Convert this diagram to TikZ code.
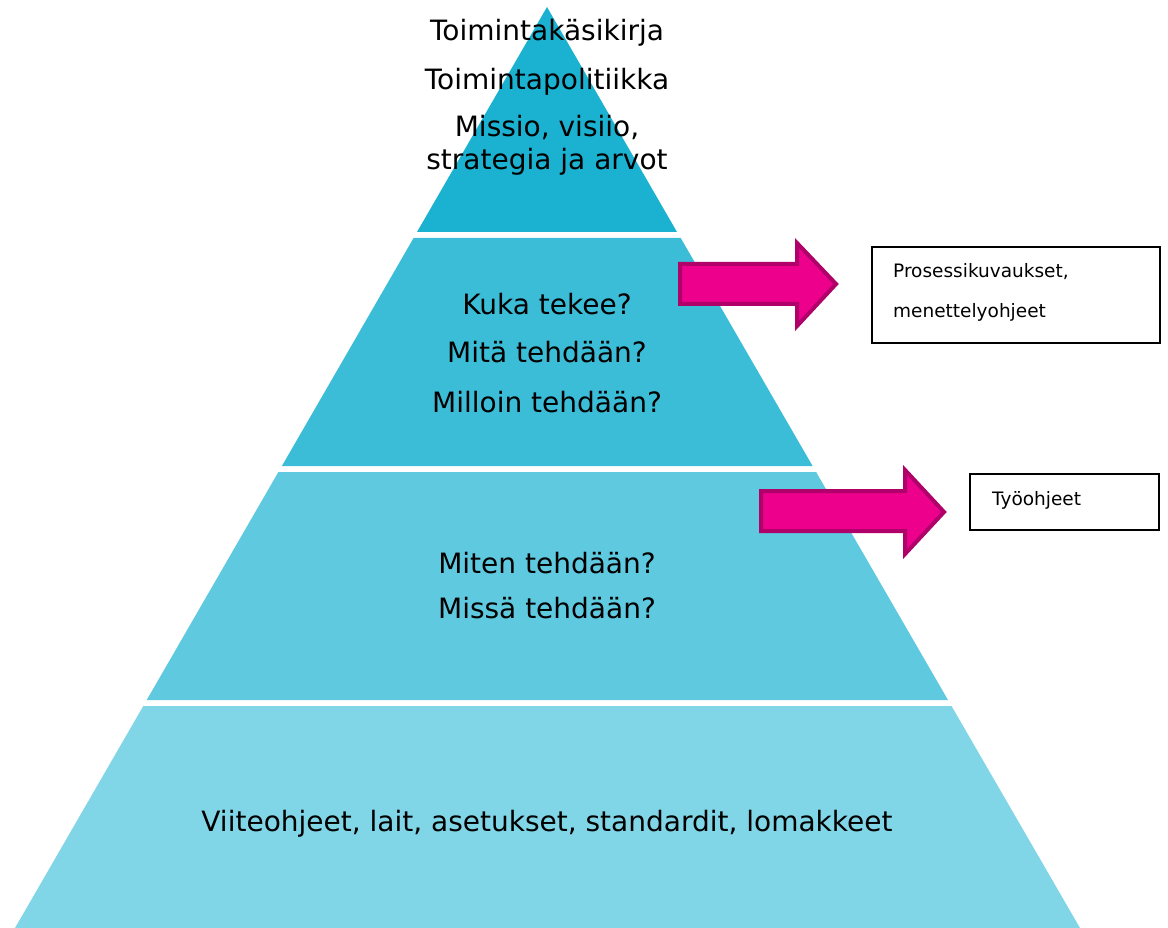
\documentclass[tikz,border=0pt]{standalone}
\usepackage{fontspec}
\setmainfont{DejaVu Sans}
\definecolor{layerA}{HTML}{1BB1D1}
\definecolor{layerB}{HTML}{3BBDD8}
\definecolor{layerC}{HTML}{5FC9E0}
\definecolor{layerD}{HTML}{80D5E6}
\definecolor{arrowfill}{HTML}{EC008C}
\definecolor{arrowedge}{HTML}{B0006A}
\begin{document}
\begin{tikzpicture}[x=1pt,y=-1pt,
  bigtext/.style={font=\fontsize{28}{33}\selectfont, inner sep=0pt, anchor=base},
  smalltext/.style={font=\fontsize{18.5}{22}\selectfont, inner sep=0pt, anchor=base west},
  infobox/.style={draw=black, line width=1.5pt, inner sep=0pt},
  blockarrow/.style={fill=arrowfill, draw=arrowedge, line width=4pt, line join=miter}]
\useasboundingbox (0,0) rectangle (1168,928);
\fill[white] (0,0) rectangle (1168,928);
% pyramid layers
\fill[layerA] (547,7) -- (677,232) -- (417,232) -- cycle;
\fill[layerB] (413.6,238) -- (680.7,238) -- (812.6,466) -- (281.9,466) -- cycle;
\fill[layerC] (278.4,472) -- (816.1,472) -- (948,700) -- (146.7,700) -- cycle;
\fill[layerD] (143.3,706) -- (951.5,706) -- (1080,928) -- (15,928) -- cycle;
% layer texts
\node[bigtext] (t1) at (547,41) {Toimintakäsikirja};
\node[bigtext] (t2) at (547,90) {Toimintapolitiikka};
\node[bigtext] (t3) at (547,137) {Missio, visiio,};
\node[bigtext] (t4) at (547,170) {strategia ja arvot};
\node[bigtext] (m1) at (547,314) {Kuka tekee?};
\node[bigtext] (m2) at (547,362) {Mitä tehdään?};
\node[bigtext] (m3) at (547,412) {Milloin tehdään?};
\node[bigtext] (l1) at (547,573) {Miten tehdään?};
\node[bigtext] (l2) at (547,618) {Missä tehdään?};
\node[bigtext] (b1) at (547,831) {Viiteohjeet, lait, asetukset, standardit, lomakkeet};
% block arrows
\draw[blockarrow] (680,264) -- (797,264) -- (797,243) -- (836,284) -- (797,326) -- (797,304) -- (680,304) -- cycle;
\draw[blockarrow] (761,491) -- (905,491) -- (905,470) -- (944,512) -- (905,554) -- (905,531) -- (761,531) -- cycle;
% boxes
\node[infobox, minimum width=288pt, minimum height=96pt] (box1) at (1016,295) {};
\node[smalltext] (s1) at (893,277) {Prosessikuvaukset,};
\node[smalltext] (s2) at (893,317) {menettelyohjeet};
\node[infobox, minimum width=189pt, minimum height=56pt] (box2) at (1064.5,502) {};
\node[smalltext] (s3) at (992,505) {Työohjeet};
\end{tikzpicture}
\end{document}
